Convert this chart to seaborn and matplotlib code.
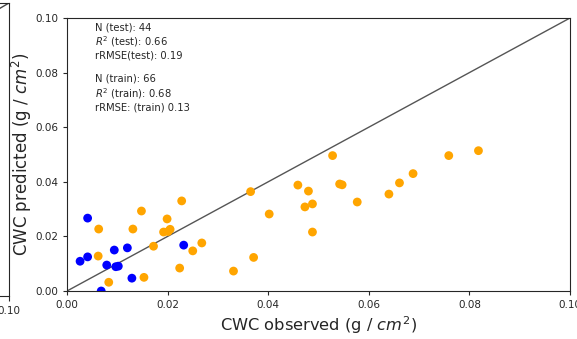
import matplotlib
matplotlib.use("Agg")
import matplotlib.pyplot as plt
import seaborn as sns
import pandas as pd

# test points (blue)
test_obs = [0.0026, 0.0041, 0.0041, 0.0079, 0.0094, 0.0097, 0.0102, 0.0120, 0.0129, 0.0232, 0.0068]
test_pred = [0.0109, 0.0125, 0.0267, 0.0095, 0.0150, 0.0089, 0.0091, 0.0158, 0.0047, 0.0168, 0.0000]

# train points (orange)
train_obs = [0.0063, 0.0062, 0.0083, 0.0131, 0.0148, 0.0153, 0.0172, 0.0192, 0.0199,
             0.0205, 0.0201, 0.0224, 0.0228, 0.0250, 0.0268, 0.0331, 0.0365, 0.0371,
             0.0402, 0.0459, 0.0480, 0.0473, 0.0488, 0.0488, 0.0528, 0.0542, 0.0547,
             0.0577, 0.0640, 0.0661, 0.0688, 0.0759, 0.0818]
train_pred = [0.0227, 0.0128, 0.0032, 0.0227, 0.0293, 0.0050, 0.0164, 0.0216, 0.0264,
              0.0226, 0.0218, 0.0084, 0.0330, 0.0147, 0.0176, 0.0073, 0.0364, 0.0123,
              0.0282, 0.0388, 0.0366, 0.0308, 0.0319, 0.0216, 0.0496, 0.0392, 0.0389,
              0.0326, 0.0355, 0.0396, 0.0430, 0.0496, 0.0514]

stats_text = ("N (test): 44\n$R^2$ (test): 0.66\nrRMSE(test): 0.19\n\n"
              "N (train): 66\n$R^2$ (train): 0.68\nrRMSE: (train) 0.13")

df = pd.DataFrame({
    "obs": test_obs + train_obs,
    "pred": test_pred + train_pred,
    "set": ["test"] * len(test_obs) + ["train"] * len(train_obs),
})

sns.set_style("ticks")
W, H = 577, 339
fig = plt.figure(figsize=(W / 100, H / 100), dpi=100)

# neighbouring panel cut off at the left edge of the screenshot
ax0 = fig.add_axes([(9 - 503) / W, (H - 296) / H, 503 / W, 293 / H])
ax0.plot([0, 0.1], [0, 0.1], color="#444444", lw=1)
ax0.set_xlim(0, 0.1)
ax0.set_ylim(0, 0.1)
ax0.set_xticks([0.1])
ax0.set_xticklabels(["0.10"], fontsize=7.5)
ax0.set_yticks([])

ax = fig.add_axes([67 / W, (H - 291) / H, 503 / W, 273 / H])
sns.scatterplot(data=df, x="obs", y="pred", hue="set",
                palette={"test": "blue", "train": "orange"},
                s=40, linewidth=0, legend=False, ax=ax, zorder=3)
ax.plot([0, 0.1], [0, 0.1], color="#555555", lw=1, zorder=2)
ax.set_xlim(0, 0.1)
ax.set_ylim(0, 0.1)
ax.set_xticks([0, 0.02, 0.04, 0.06, 0.08, 0.10])
ax.set_yticks([0, 0.02, 0.04, 0.06, 0.08, 0.10])
ax.tick_params(labelsize=7.5, length=3)
ax.set_xlabel("CWC observed (g / $cm^2$)", fontsize=11.7, labelpad=3)
ax.set_ylabel("CWC predicted (g / $cm^2$)", fontsize=12, labelpad=1)
ax.text(0.055, 0.985, stats_text, transform=ax.transAxes, fontsize=7.2,
        va="top", ha="left", linespacing=1.2)

fig.savefig("out.png", dpi=100)
